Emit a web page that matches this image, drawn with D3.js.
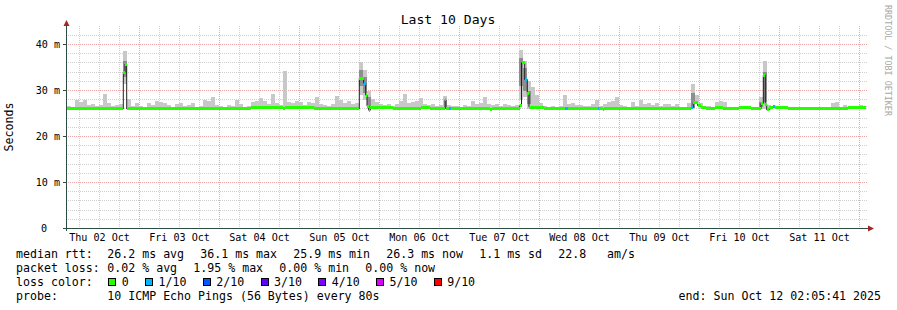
<!DOCTYPE html>
<html>
<head>
<meta charset="utf-8">
<script src="https://cdn.jsdelivr.net/npm/d3@7"></script>
<style>
  body { margin: 0; background: #fff; }
  svg { display: block; font-family: "DejaVu Sans Mono", monospace; }
</style>
</head>
<body>
<svg id="chart" width="897" height="310"></svg>
<script>
//Data (times in hours after the graph start, values in ms)
const dayLabels = ["Thu 02 Oct", "Fri 03 Oct", "Sat 04 Oct", "Sun 05 Oct", "Mon 06 Oct",
                   "Tue 07 Oct", "Wed 08 Oct", "Thu 09 Oct", "Fri 10 Oct", "Sat 11 Oct"];
const yTickValues = [0, 10, 20, 30, 40];
const yTickLabels = ["0", "10 m", "20 m", "30 m", "40 m"];

//median rtt as steps: start hour, value, lost pings out of 10
const medianStart = [0, 17.04, 17.55, 18.06, 55.35, 64.95, 65.55, 74.34, 87.84, 89.16, 89.76, 90.15,
                     90.66, 91.14, 97.86, 106.35, 109.05, 113.55, 113.85, 114.66, 115.44, 127.05, 127.65,
                     135.96, 136.5, 137.46, 138.24, 138.75, 143.34, 149.64, 150.36, 159.36, 159.84, 160.86,
                     161.34, 187.35, 188.04, 189.36, 190.35, 191.85, 194.64, 196.86, 201.66, 205.35, 208.35,
                     209.04, 209.64, 210.06, 210.84, 212.04, 212.64, 216.36, 234.36];
const medianMs = [26.0, 34.0, 35.7, 26.0, 26.4, 26.0, 26.4, 26.0, 32.7, 31.6, 29.0, 26.6,
                  25.7, 26.4, 26.0, 26.4, 26.0, 28.0, 26.0, 26.0, 26.0, 25.8, 26.0,
                  26.7, 36.0, 32.4, 29.3, 26.4, 26.0, 26.0, 26.0, 26.0, 26.0, 25.8,
                  26.0, 26.3, 27.5, 26.7, 26.3, 26.0, 26.3, 26.0, 26.4, 26.0, 27.2,
                  33.3, 27.0, 25.8, 26.3, 26.6, 26.4, 26.0, 26.4];
const medianLoss = [0, 0, 0, 0, 0, 0, 0, 0, 0, 1, 0, 0,
                    0, 0, 0, 0, 0, 0, 0, 1, 0, 0, 0,
                    0, 0, 1, 0, 0, 0, 1, 0, 1, 0, 0,
                    0, 1, 0, 0, 0, 0, 0, 0, 0, 0, 0,
                    0, 0, 0, 0, 1, 0, 0, 0];
const lastHour = 239.85;

//smoke: highest ping per 1.2 h bin
const binHours = 1.2;
const smokeTop = [
  26.7, 26.5, 28.0, 27.5, 27.9, 26.8, 27.0, 26.6, 26.8, 29.2,
  27.2, 26.6, 26.8, 27.0, 38.5, 28.2, 26.6, 27.2, 26.7, 26.5,
  27.2, 26.9, 27.8, 27.6, 27.3, 26.8, 26.5, 27.0, 27.3, 26.6,
  26.9, 27.2, 26.5, 26.7, 28.0, 27.8, 28.5, 26.8, 26.6, 26.5,
  26.9, 26.6, 28.0, 27.0, 26.5, 26.6, 27.5, 27.8, 28.3, 27.8,
  27.0, 29.3, 27.3, 26.8, 34.3, 27.5, 27.3, 27.8, 27.4, 26.8,
  27.5, 27.2, 28.5, 27.0, 26.8, 26.7, 27.0, 28.7, 28.0, 27.2,
  27.8, 27.1, 27.3, 36.2, 34.5, 30.0, 28.2, 27.6, 27.0, 26.8,
  27.0, 26.7, 27.0, 27.8, 29.3, 27.2, 27.5, 27.7, 28.3, 27.0,
  26.9, 27.0, 26.6, 26.8, 28.9, 26.8, 26.6, 26.7, 26.5, 26.9,
  26.7, 27.8, 27.0, 27.3, 28.5, 27.0, 26.8, 27.0, 26.6, 27.0,
  26.9, 26.7, 26.8, 38.7, 36.5, 32.0, 30.7, 29.0, 27.2, 26.6,
  26.5, 26.7, 26.5, 26.6, 29.1, 27.0, 27.3, 26.8, 26.9, 26.6,
  26.6, 27.0, 27.9, 26.6, 27.0, 27.5, 27.8, 28.5, 26.8, 26.6,
  26.5, 27.6, 26.6, 28.0, 27.0, 27.3, 26.9, 27.2, 26.6, 27.0,
  27.0, 26.6, 27.0, 26.5, 26.5, 27.2, 31.4, 29.0, 27.3, 26.7,
  26.6, 26.4, 27.5, 27.8, 27.5, 26.5, 26.4, 26.3, 26.2, 26.4,
  26.6, 26.4, 26.5, 28.5, 36.4, 26.8, 26.4, 26.6, 26.6, 26.2,
  26.2, 26.2, 26.2, 26.2, 26.2, 26.2, 26.2, 26.2, 26.2, 26.2,
  26.2, 27.2, 27.6, 26.4, 26.8, 26.2, 26.4, 26.2, 26.8, 26.6
];
//bins where the smoke is wide: lowest ping, 3rd and 8th ping
const spikeBin = [14, 73, 74, 75, 113, 114, 115, 156, 173, 174];
const spikeLo  = [31.5, 29.0, 28.0, 26.0, 28.0, 28.5, 26.0, 26.0, 26.0, 26.0];
const spikeQ1  = [33.0, 31.0, 29.5, 26.5, 31.0, 30.0, 27.0, 26.3, 26.5, 27.5];
const spikeQ3  = [36.5, 34.5, 33.0, 28.5, 37.0, 35.0, 30.0, 29.5, 27.5, 34.0];

//legend
const rttLegend = ["26.2 ms avg", "36.1 ms max", "25.9 ms min", "26.3 ms now", "1.1 ms sd", "22.8   am/s"];
const lossLegend = ["0.02 % avg", "1.95 % max", "0.00 % min", "0.00 % now"];
const lossLevels = [0, 1, 2, 3, 4, 5, 9];
const lossLabels = ["0", "1/10", "2/10", "3/10", "4/10", "5/10", "9/10"];
const lossColors = ["#26ff00", "#00b8ff", "#0059ff", "#5e00ff", "#7e00ff", "#dd00ff", "#ff0000"];
const probeText = "10 ICMP Echo Pings (56 Bytes) every 80s";
const endText = "end: Sun Oct 12 02:05:41 2025";

//Chart Setup
const start = Date.UTC(2025, 9, 2, 2, 5, 41);
const end = Date.UTC(2025, 9, 12, 2, 5, 41);
const toDate = (h) => new Date(start + h * 3600e3);
const px0 = (v) => Math.floor(v);

const x = d3.scaleUtc().domain([new Date(start), new Date(end)]).range([66.5, 866.5]);
const y = d3.scaleLinear().domain([0, 44]).range([228.5, 26.1]);
const charW = 6.98;

const chart = d3.select("#chart");

//Grid: one pixel on, one pixel off, done with tiny patterns
const defs = chart.append("defs");
function dotPattern(id, w, h, color) {
  const p = defs.append("pattern").attr("id", id)
                .attr("patternUnits", "userSpaceOnUse")
                .attr("width", w).attr("height", h);
  p.append("rect").attr("width", 1).attr("height", 1).attr("fill", color);
}
dotPattern("hMinor", 2, 1, "#d0d0d0");
dotPattern("vMinor", 1, 2, "#d0d0d0");
dotPattern("hMajor", 2, 1, "#eaa4a4");
dotPattern("vMajor", 1, 2, "#eaa4a4");

const grid = chart.append("g").attr("shape-rendering", "crispEdges");
const minorY = d3.range(2, 44, 2).filter((v) => v % 10 !== 0);
const minorX = d3.utcHour.every(6).range(new Date(start), new Date(end)).filter((d) => d.getUTCHours() !== 0);
const majorX = d3.utcDay.range(new Date(start), new Date(end));

function hLines(values, fill) {
  grid.append("g").selectAll("rect").data(values).enter().append("rect")
      .attr("x", 67).attr("width", 800)
      .attr("y", (d) => px0(y(d))).attr("height", 1)
      .attr("fill", fill);
}
function vLines(values, fill) {
  grid.append("g").selectAll("rect").data(values).enter().append("rect")
      .attr("x", (d) => px0(x(d))).attr("width", 1)
      .attr("y", 26).attr("height", 202)
      .attr("fill", fill);
}
hLines(minorY, "url(#hMinor)");
vLines(minorX, "url(#vMinor)");
hLines(yTickValues.slice(1), "url(#hMajor)");
vLines(majorX, "url(#vMajor)");

//Smoke
const medianAt = (h) => medianMs[Math.max(0, d3.bisectRight(medianStart, h) - 1)];
const smoke = chart.append("g").attr("shape-rendering", "crispEdges");
smoke.selectAll("rect").data(smokeTop).enter().append("rect")
     .attr("x", (d, i) => x(toDate(i * binHours)))
     .attr("width", (d, i) => x(toDate((i + 1) * binHours)) - x(toDate(i * binHours)))
     .attr("y", (d) => y(d))
     .attr("height", (d, i) => {
       const k = spikeBin.indexOf(i);
       const low = k >= 0 ? spikeLo[k] : medianAt((i + 0.5) * binHours);
       return Math.max(0, y(low) - y(d));
     })
     .attr("fill", "#c8c8c8");
smoke.selectAll(".core").data(spikeBin).enter().append("rect")
     .attr("x", (d) => x(toDate(d * binHours)))
     .attr("width", (d) => x(toDate((d + 1) * binHours)) - x(toDate(d * binHours)))
     .attr("y", (d, k) => y(spikeQ3[k]))
     .attr("height", (d, k) => y(spikeQ1[k]) - y(spikeQ3[k]))
     .attr("fill", "#8e8e8e");

//Median line (dark) and loss coloured bars
const steps = medianStart.map((h, i) => [h, medianMs[i]]).concat([[lastHour, medianMs[medianMs.length - 1]]]);
chart.append("path")
     .datum(steps)
     .attr("fill", "none")
     .attr("stroke", "#202020")
     .attr("stroke-width", 1)
     .attr("d", d3.line().curve(d3.curveStepAfter).x((d) => x(toDate(d[0]))).y((d) => y(d[1])));

const lossColor = (n) => lossColors[d3.bisectRight(lossLevels, n) - 1];
chart.append("g").attr("shape-rendering", "crispEdges").selectAll("rect")
     .data(medianStart)
     .enter()
     .append("rect")
     .attr("x", (d) => x(toDate(d)))
     .attr("width", (d, i) => x(toDate(i + 1 < medianStart.length ? medianStart[i + 1] : lastHour)) - x(toDate(d)))
     .attr("y", (d, i) => Math.round(y(medianMs[i]) - 1.5))
     .attr("height", 3)
     .attr("fill", (d, i) => lossColor(medianLoss[i]));

//Axes
const axisColor = "#2c4d43";
const arrowColor = "#a52525";
chart.append("line").attr("x1", 63).attr("x2", 869).attr("y1", 228.5).attr("y2", 228.5)
     .attr("stroke", axisColor).attr("shape-rendering", "crispEdges");
chart.append("line").attr("x1", 66.5).attr("x2", 66.5).attr("y1", 231).attr("y2", 25)
     .attr("stroke", axisColor).attr("shape-rendering", "crispEdges");
chart.append("path").attr("d", "M874,228.5 L868,225.5 L868,231.5 Z").attr("fill", arrowColor);
chart.append("path").attr("d", "M66.5,20 L63.5,26 L69.5,26 Z").attr("fill", arrowColor);

chart.append("g").attr("shape-rendering", "crispEdges")
     .selectAll("line").data(yTickValues).enter().append("line")
     .attr("x1", 63).attr("x2", 66.5)
     .attr("y1", (d) => px0(y(d)) + 0.5).attr("y2", (d) => px0(y(d)) + 0.5)
     .attr("stroke", axisColor);

chart.append("g").selectAll("text").data(yTickValues).enter().append("text")
     .attr("x", (d) => d === 0 ? 47 : 60)
     .attr("y", (d) => px0(y(d)) + 4)
     .attr("text-anchor", "end")
     .attr("font-size", "10.1px")
     .attr("fill", "#000")
     .text((d, i) => yTickLabels[i]);

const noons = majorX.map((d) => d3.utcHour.offset(d, -12)).concat([d3.utcHour.offset(majorX[majorX.length - 1], 12)]);
chart.append("g").selectAll("text").data(dayLabels).enter().append("text")
     .attr("x", (d, i) => x(noons[i]))
     .attr("y", 241)
     .attr("text-anchor", "middle")
     .attr("font-size", "10.1px")
     .attr("fill", "#000")
     .text((d) => d);

//Labels
chart.append("text")
     .attr("x", 448).attr("y", 24)
     .attr("text-anchor", "middle")
     .attr("font-size", "13.1px")
     .text("Last 10 Days");

chart.append("text")
     .attr("transform", "translate(13,127) rotate(-90)")
     .attr("text-anchor", "middle")
     .attr("font-size", "11.6px")
     .text("Seconds");

chart.append("text")
     .attr("transform", "translate(885,5) rotate(90)")
     .attr("font-size", "8.4px")
     .attr("fill", "#a8a8a8")
     .text("RRDTOOL / TOBI OETIKER");

//Legend Setup (non-breaking spaces keep the runs of blanks)
const legend = chart.append("g").attr("font-size", "11.6px").attr("fill", "#000");
const keep = (t) => t.replace(/ /g, "\u00a0");
const rowY = [258, 272, 286, 300];
legend.append("text").attr("x", 16).attr("y", rowY[0]).text("median rtt:");
legend.append("text").attr("x", 16).attr("y", rowY[1]).text("packet loss:");
legend.append("text").attr("x", 16).attr("y", rowY[2]).text("loss color:");
legend.append("text").attr("x", 16).attr("y", rowY[3]).text("probe:");

let lx = 107.3;
rttLegend.forEach((t) => {
  legend.append("text").attr("x", lx).attr("y", rowY[0]).text(keep(t));
  lx += t.length * charW + 16.2;
});
lx = 107.3;
lossLegend.forEach((t) => {
  legend.append("text").attr("x", lx).attr("y", rowY[1]).text(keep(t));
  lx += t.length * charW + 16.2;
});
lx = 108.3;
lossLabels.forEach((t, i) => {
  legend.append("rect")
        .attr("x", Math.round(lx) + 0.5).attr("y", 278.5)
        .attr("width", 7).attr("height", 7)
        .attr("fill", lossColors[i]).attr("stroke", "#000")
        .attr("shape-rendering", "crispEdges");
  legend.append("text").attr("x", lx + 13.5).attr("y", rowY[2]).text(t);
  lx += 13.5 + t.length * charW + 16.3;
});
legend.append("text").attr("x", 107.3).attr("y", rowY[3]).text(probeText);
legend.append("text").attr("x", 881).attr("y", rowY[3]).attr("text-anchor", "end").text(endText);
</script>
</body>
</html>
